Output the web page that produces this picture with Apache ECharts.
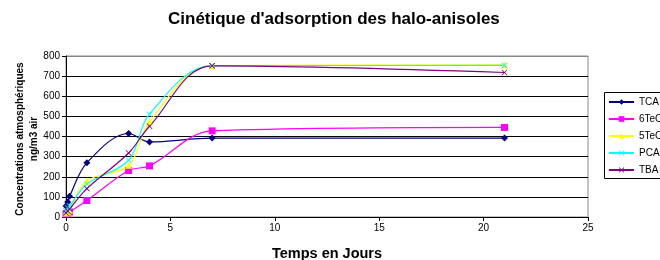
<!DOCTYPE html>
<html>
<head>
<meta charset="utf-8">
<script src="https://cdn.jsdelivr.net/npm/echarts@6/dist/echarts.min.js"></script>
<style>
  html, body { margin: 0; padding: 0; background: #fff; }
  #chart { width: 660px; height: 260px; }
</style>
</head>
<body>
<div id="chart"></div>
<script>
// temps en jours
var days = [0, 0.08, 0.17, 1, 3, 4, 7, 21];

var tca   = [55, 75, 103, 269, 415, 373, 392, 392];
var teca6 = [15, 20, 25, 82, 231, 254, 428, 445];
var teca5 = [20, 25, 35, 179, 257, 473, 752, 756];
var pca   = [30, 45, 55, 163, 282, 511, 752, 753];
var tba   = [20, 30, 40, 141, 318, 451, 751, 718];

var names = ['TCA', '6TeCA', '5TeCA', 'PCA', 'TBA'];
var colors = ['#000080', '#FF00FF', '#FFFF00', '#00FFFF', '#800080'];

var xShape = 'path://M0,1L1,0L5,4L9,0L10,1L6,5L10,9L9,10L5,6L1,10L0,9L4,5Z';
var symbols = ['diamond', 'rect', 'triangle', xShape, xShape];
var sizes = [7, 7, 7, 6, 6];

function pairs(vals) {
  var out = [];
  for (var i = 0; i < days.length; i++) {
    out.push([days[i], vals[i]]);
  }
  return out;
}

var allData = [tca, teca6, teca5, pca, tba];

var chart = echarts.init(document.getElementById('chart'));

var series = names.map(function (name, i) {
  return {
    name: name,
    type: 'line',
    smooth: 0.35,
    data: pairs(allData[i]),
    symbol: symbols[i],
    symbolSize: sizes[i],
    lineStyle: { width: 1.2, color: colors[i] },
    itemStyle: { color: colors[i] },
    animation: false
  };
});

var gridColors = ['#000', '#000', '#000', '#000', '#000', '#000', '#000', '#000', '#888'];

var option = {
  backgroundColor: '#fff',
  animation: false,
  title: {
    text: "Cinétique d'adsorption des halo-anisoles",
    left: 163,
    top: 6,
    textStyle: {
      fontFamily: 'Liberation Sans',
      fontSize: 17,
      fontWeight: 'bold',
      color: '#000'
    }
  },
  legend: {
    orient: 'vertical',
    left: 604,
    top: 92,
    padding: [5, 4, 4, 4],
    itemWidth: 25,
    itemHeight: 7,
    itemGap: 7,
    borderWidth: 0,
    textStyle: { fontFamily: 'Liberation Sans', fontSize: 10, color: '#000' },
    data: names
  },
  grid: {
    left: 66,
    right: 72,
    top: 56,
    bottom: 43,
    outerBoundsMode: 'none',
    containLabel: false,
    show: true,
    borderColor: '#888',
    borderWidth: 1
  },
  xAxis: {
    type: 'value',
    min: 0,
    max: 25,
    interval: 5,
    name: 'Temps en Jours',
    nameLocation: 'middle',
    nameGap: 29,
    nameTextStyle: { fontFamily: 'Liberation Sans', fontSize: 14.5, fontWeight: 'bold', color: '#000' },
    axisLine: { lineStyle: { color: '#000', width: 1 } },
    axisTick: { show: true, length: 4, lineStyle: { color: '#000' } },
    axisLabel: { fontFamily: 'Liberation Sans', fontSize: 10, color: '#000', margin: 6 },
    splitLine: { show: false }
  },
  yAxis: {
    type: 'value',
    min: 0,
    max: 800,
    interval: 100,
    axisLine: { show: true, lineStyle: { color: '#000', width: 1 } },
    axisTick: { show: true, length: 4, lineStyle: { color: '#000' } },
    axisLabel: { fontFamily: 'Liberation Sans', fontSize: 10, color: '#000', margin: 6 },
    splitLine: { show: true, lineStyle: { color: gridColors, width: 1 } }
  },
  graphic: [
    {
      type: 'text',
      x: 27,
      y: 139,
      rotation: Math.PI / 2,
      style: {
        text: 'Concentrations atmosphériques\nng/m3 air',
        fontFamily: 'Liberation Sans',
        fontSize: 10,
        fontWeight: 'bold',
        lineHeight: 14,
        fill: '#000',
        textAlign: 'center',
        textVerticalAlign: 'middle'
      }
    },
    {
      // cadre de la légende, coupé par le bord droit
      type: 'rect',
      shape: { x: 604.5, y: 92.5, width: 80, height: 86 },
      style: { fill: 'none', stroke: '#000', lineWidth: 1 }
    }
  ],
  series: series
};

chart.setOption(option);
</script>
</body>
</html>
